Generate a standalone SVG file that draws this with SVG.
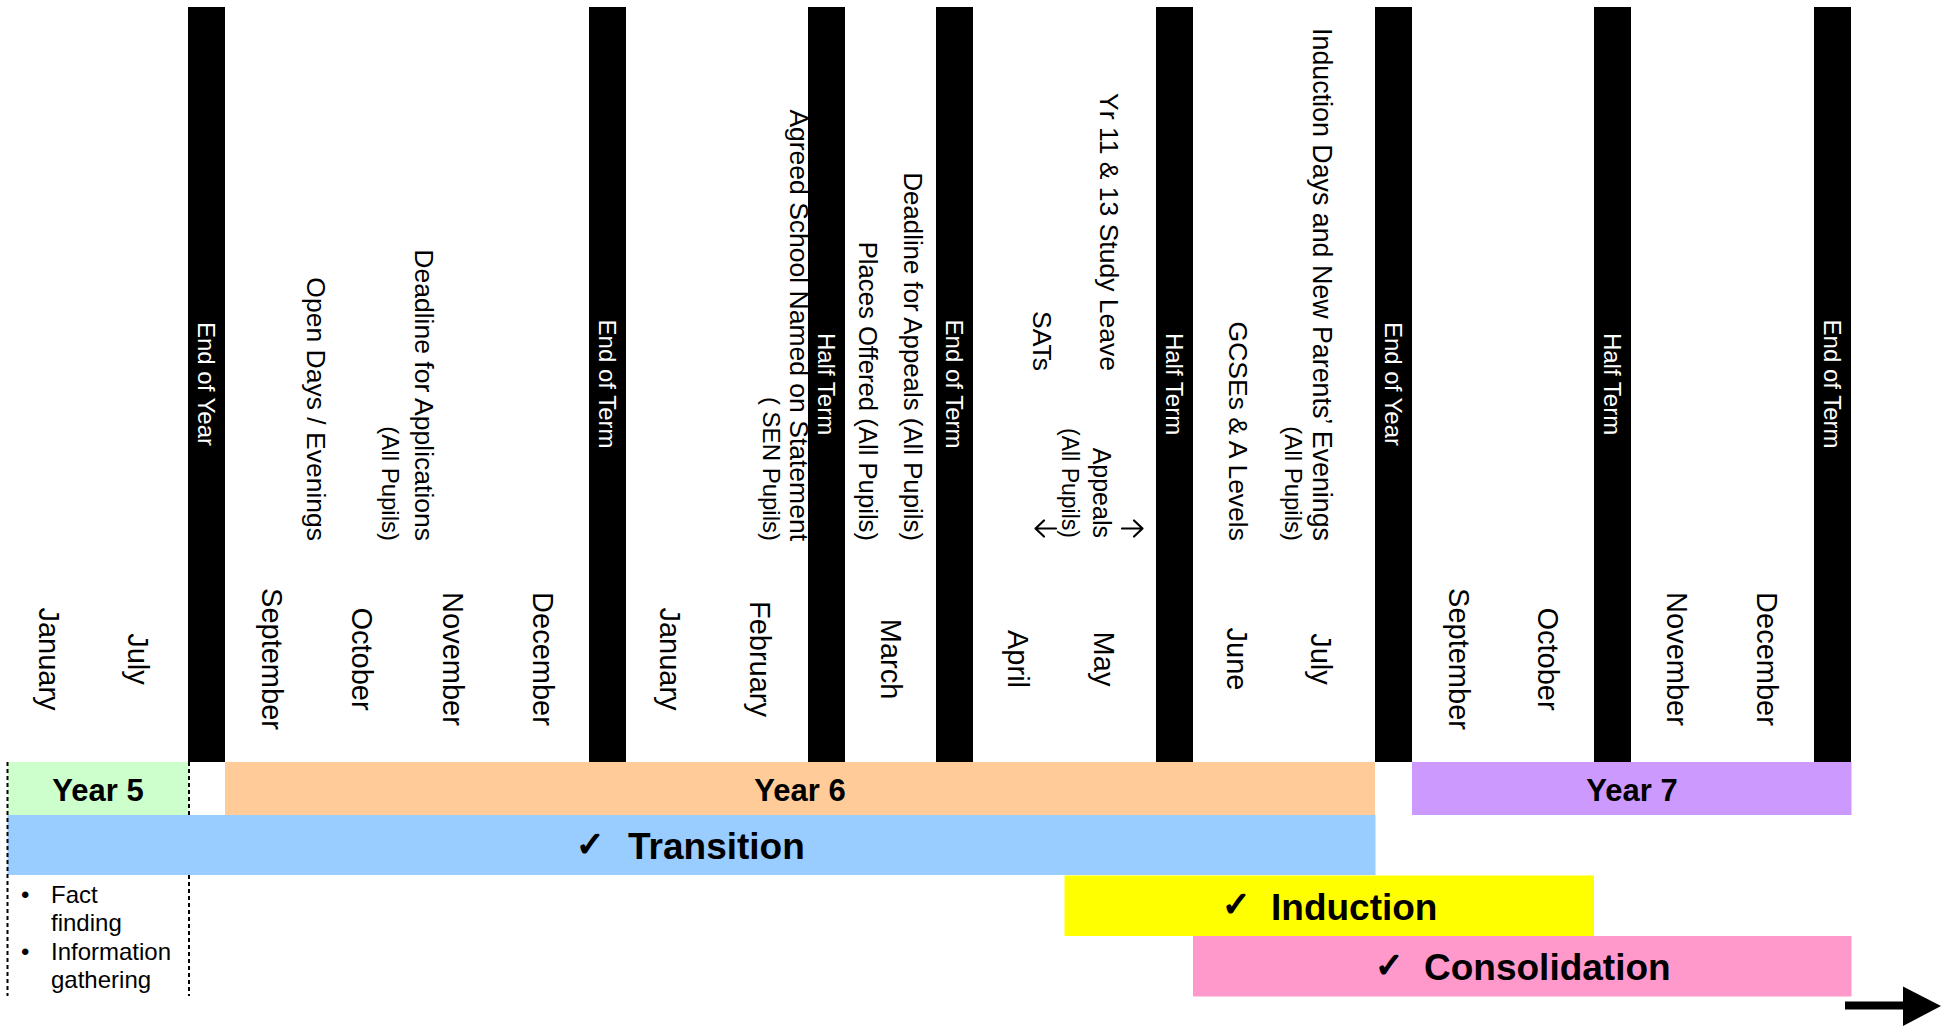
<svg xmlns="http://www.w3.org/2000/svg" width="1941" height="1027" viewBox="0 0 1941 1027">
<style>
text{font-family:"Liberation Sans",Arial,"DejaVu Sans",sans-serif;fill:#000}
.bar{fill:#000}
.bl{font-size:24px;fill:#fff;text-anchor:middle;dominant-baseline:central}
.mo{font-size:29px;text-anchor:middle;dominant-baseline:central}
.ev{font-size:26.5px;text-anchor:end;dominant-baseline:central}
.sub{font-size:24px;text-anchor:end;dominant-baseline:central}
.yr{font-size:31px;font-weight:bold;text-anchor:middle}
.ph{font-size:37px;font-weight:bold}
.ck{font-size:34px;font-family:"DejaVu Sans",sans-serif;stroke:#000;stroke-width:1.6}
.ff{font-size:24px}
.dash{stroke:#000;stroke-width:2;stroke-dasharray:4 3;fill:none}
.sarr{stroke:#000;stroke-width:2.2;fill:none;stroke-linecap:round;stroke-linejoin:round}
</style>
<rect width="1941" height="1027" fill="#fff"/>

<!-- term bars -->
<g id="bar-end-of-year-1"><rect class="bar" x="188" y="7" width="37" height="755"/><text class="bl" transform="translate(206.5,384) rotate(90)">End of Year</text></g>
<g id="bar-end-of-term-1"><rect class="bar" x="589" y="7" width="37" height="755"/><text class="bl" transform="translate(607.5,384) rotate(90)">End of Term</text></g>
<g id="bar-half-term-1"><rect class="bar" x="808" y="7" width="37" height="755"/><text class="bl" transform="translate(826.5,384) rotate(90)">Half Term</text></g>
<g id="bar-end-of-term-2"><rect class="bar" x="936" y="7" width="37" height="755"/><text class="bl" transform="translate(954.5,384) rotate(90)">End of Term</text></g>
<g id="bar-half-term-2"><rect class="bar" x="1156" y="7" width="37" height="755"/><text class="bl" transform="translate(1174.5,384) rotate(90)">Half Term</text></g>
<g id="bar-end-of-year-2"><rect class="bar" x="1375" y="7" width="37" height="755"/><text class="bl" transform="translate(1393.5,384) rotate(90)">End of Year</text></g>
<g id="bar-half-term-3"><rect class="bar" x="1594" y="7" width="37" height="755"/><text class="bl" transform="translate(1612.5,384) rotate(90)">Half Term</text></g>
<g id="bar-end-of-term-3"><rect class="bar" x="1814" y="7" width="37" height="755"/><text class="bl" transform="translate(1832.5,384) rotate(90)">End of Term</text></g>

<!-- months -->
<g id="months">
<text class="mo" transform="translate(49,659) rotate(90)">January</text>
<text class="mo" transform="translate(138,659) rotate(90)">July</text>
<text class="mo" transform="translate(272,659) rotate(90)">September</text>
<text class="mo" transform="translate(362,659) rotate(90)">October</text>
<text class="mo" transform="translate(453,659) rotate(90)">November</text>
<text class="mo" transform="translate(543,659) rotate(90)">December</text>
<text class="mo" transform="translate(670,659) rotate(90)">January</text>
<text class="mo" transform="translate(760,659) rotate(90)">February</text>
<text class="mo" transform="translate(891,659) rotate(90)">March</text>
<text class="mo" transform="translate(1018,659) rotate(90)">April</text>
<text class="mo" transform="translate(1104,659) rotate(90)">May</text>
<text class="mo" transform="translate(1237,659) rotate(90)">June</text>
<text class="mo" transform="translate(1321,659) rotate(90)">July</text>
<text class="mo" transform="translate(1459,659) rotate(90)">September</text>
<text class="mo" transform="translate(1548,659) rotate(90)">October</text>
<text class="mo" transform="translate(1677,659) rotate(90)">November</text>
<text class="mo" transform="translate(1767,659) rotate(90)">December</text>
</g>

<!-- events -->
<g id="ev-open-days"><text class="ev" transform="translate(316,541) rotate(90)">Open Days / Evenings</text></g>
<g id="ev-deadline-applications"><text class="ev" transform="translate(424,541) rotate(90)">Deadline for Applications</text><text class="sub" transform="translate(390,541) rotate(90)">(All Pupils)</text></g>
<g id="ev-agreed-school"><text class="ev" transform="translate(799,541) rotate(90)">Agreed School Named on Statement</text><text class="sub" transform="translate(771,541) rotate(90)">( SEN Pupils)</text></g>
<g id="ev-places-offered"><text class="ev" style="font-size:25.7px" transform="translate(868,541) rotate(90)">Places Offered (All Pupils)</text></g>
<g id="ev-deadline-appeals"><text class="ev" style="font-size:25.8px" transform="translate(913,541) rotate(90)">Deadline for Appeals (All Pupils)</text></g>
<g id="ev-sats"><text class="ev" transform="translate(1042,371) rotate(90)">SATs</text></g>
<g id="ev-study-leave"><text class="ev" transform="translate(1109,371) rotate(90)">Yr 11 &amp; 13 Study Leave</text></g>
<g id="ev-appeals"><text class="ev" style="font-size:25px" transform="translate(1102,538) rotate(90)">Appeals</text><text class="sub" style="font-size:23px" transform="translate(1070,538) rotate(90)">(All Pupils)</text>
<path class="sarr" d="M1122,528.5 H1142 M1134,520.5 L1142.5,528.5 L1134,536.5"/>
<path class="sarr" d="M1056,528.5 H1036 M1044,520.5 L1035.5,528.5 L1044,536.5"/>
</g>
<g id="ev-gcses"><text class="ev" transform="translate(1238,541) rotate(90)">GCSEs &amp; A Levels</text></g>
<g id="ev-induction-days"><text class="ev" style="font-size:26.8px" transform="translate(1322,541) rotate(90)">Induction Days and New Parents’ Evenings</text><text class="sub" transform="translate(1293,541) rotate(90)">(All Pupils)</text></g>

<!-- bands -->
<g id="year5"><rect x="7.5" y="762" width="181" height="53" fill="#CCFFCC"/><text class="yr" x="98" y="801">Year 5</text></g>
<g id="year6"><rect x="225" y="762" width="1150" height="53" fill="#FFCC99"/><text class="yr" x="800" y="801">Year 6</text></g>
<g id="year7"><rect x="1412" y="762" width="439.5" height="53" fill="#CC99FF"/><text class="yr" x="1632" y="801">Year 7</text></g>
<g id="transition"><rect x="7.5" y="815" width="1368" height="60" fill="#99CCFF"/><text class="ck" x="576" y="856">✓</text><text class="ph" x="628" y="859">Transition</text></g>
<g id="induction"><rect x="1064.5" y="875.5" width="529.5" height="60.5" fill="#FFFF00"/><text class="ck" x="1222" y="916">✓</text><text class="ph" x="1271" y="920">Induction</text></g>
<g id="consolidation"><rect x="1193" y="936" width="658.5" height="60.5" fill="#FF99CC"/><text class="ck" x="1375" y="977">✓</text><text class="ph" x="1424" y="980">Consolidation</text></g>

<g id="fact-finding">
<line class="dash" x1="7.5" y1="762" x2="7.5" y2="996"/>
<line class="dash" x1="189" y1="762" x2="189" y2="815"/>
<line class="dash" x1="189" y1="875" x2="189" y2="996"/>
<text class="ff" x="21" y="903">•</text><text class="ff" x="51" y="903">Fact</text>
<text class="ff" x="51" y="931">finding</text>
<text class="ff" x="21" y="960">•</text><text class="ff" x="51" y="960">Information</text>
<text class="ff" x="51" y="988">gathering</text>
</g>

<g id="connectors">
<line x1="1845" y1="1005.5" x2="1905" y2="1005.5" stroke="#000" stroke-width="8"/>
<polygon points="1903,986.5 1941,1006 1903,1026" fill="#000"/>
</g>
</svg>
